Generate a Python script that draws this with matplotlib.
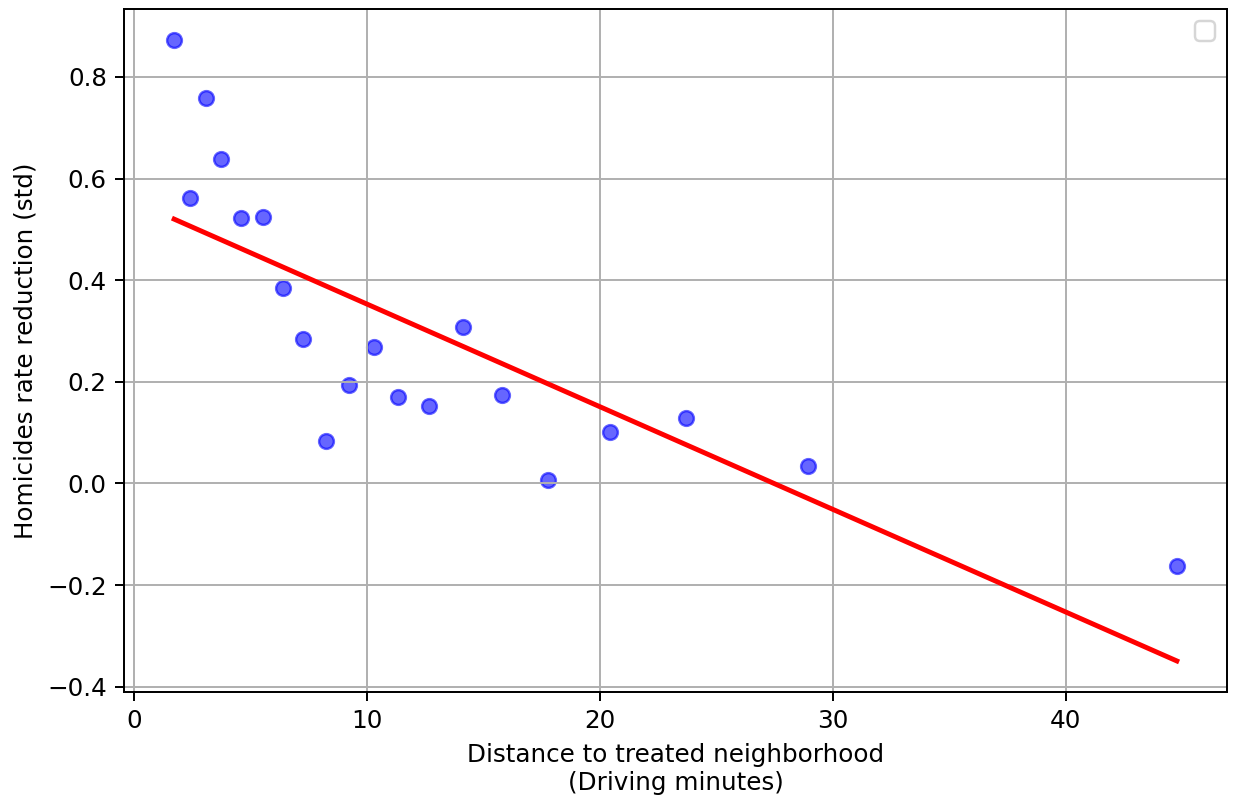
import numpy as np
import matplotlib.pyplot as plt

# 到处理社区的驾车时间（分钟）与凶杀率下降（标准差）
distance = [1.72, 2.40, 3.09, 3.73, 4.59, 5.54, 6.39, 7.25, 8.24, 9.23,
            10.30, 11.33, 12.66, 14.12, 15.79, 17.77, 20.43, 23.69, 28.93, 44.76]
reduction = [0.873, 0.561, 0.759, 0.639, 0.522, 0.525, 0.384, 0.284, 0.084, 0.194,
             0.269, 0.171, 0.153, 0.308, 0.175, 0.006, 0.102, 0.129, 0.035, -0.163]

x = np.array(distance)
y = np.array(reduction)

# 线性拟合
slope, intercept = np.polyfit(x, y, 1)
x_fit = np.array([x.min(), x.max()])
y_fit = slope * x_fit + intercept

dpi = 177
fig, ax = plt.subplots(figsize=(1233 / dpi, 800 / dpi), dpi=dpi)
fig.subplots_adjust(left=0.1006, right=0.9951, top=0.989, bottom=0.135)

ax.scatter(x, y, color='blue', alpha=0.6, s=36)
ax.plot(x_fit, y_fit, color='red', linewidth=2)

ax.set_xlabel('Distance to treated neighborhood\n(Driving minutes)')
ax.set_ylabel('Homicides rate reduction (std)')
ax.grid(True)
ax.legend()

fig.savefig('out.png', dpi=dpi)
